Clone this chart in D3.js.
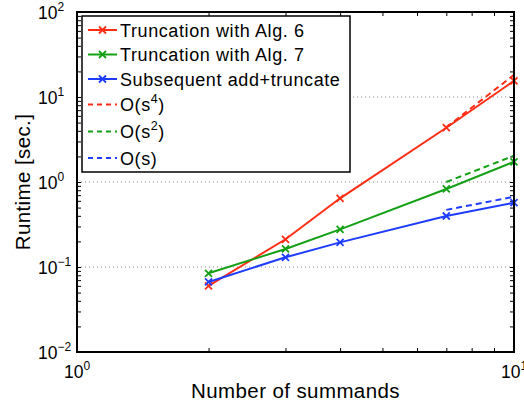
<!DOCTYPE html>
<html>
<head>
<meta charset="utf-8">
<script src="https://cdn.jsdelivr.net/npm/d3@7"></script>
<style>
body{margin:0;background:#fff;}
text{font-family:"Liberation Sans",Arial,sans-serif;fill:#000;}
</style>
</head>
<body>
<svg id="chart" width="524" height="409"></svg>
<script>
// values
var summands = [2, 3, 4, 7, 10];
var alg6 = [0.060, 0.212, 0.643, 4.35, 15.5];
var alg7 = [0.0843, 0.163, 0.277, 0.828, 1.73];
var addTrunc = [0.0667, 0.130, 0.195, 0.398, 0.571];

var refX = [7, 10];
var refS4 = [4.4, 18.2];
var refS2 = [1.0, 2.04];
var refS1 = [0.47, 0.67];

var yTickExp = [-2, -1, 0, 1, 2];
var xTickExp = [0, 1];

var red = "#ff2d14", green = "#14a014", blue = "#1e3cff";

var svg = d3.select("#chart");
var pLeft = 77, pRight = 514, pTop = 12, pBottom = 352;

var x = d3.scaleLog().domain([1, 10]).range([pLeft, pRight]);
var y = d3.scaleLog().domain([0.01, 100]).range([pBottom, pTop]);

// minor + major tick positions
var yTicks = [];
for (var e = -2; e < 2; e++){
  for (var m = 1; m < 10; m++) yTicks.push(m * Math.pow(10, e));
}
yTicks.push(100);
var xTicks = [1,2,3,4,5,6,7,8,9,10];

// dotted grid at the decades
svg.append("g").selectAll("line")
  .data(yTickExp.slice(1, -1))
  .join("line")
  .attr("x1", pLeft).attr("x2", pRight)
  .attr("y1", d => y(Math.pow(10, d))).attr("y2", d => y(Math.pow(10, d)))
  .attr("stroke", "#888").attr("stroke-width", 1)
  .attr("stroke-dasharray", "1,3");

// inward ticks on all four sides
function tickG(axis, tx, ty){
  let g = svg.append("g").attr("transform", "translate(" + tx + "," + ty + ")").call(axis);
  g.select(".domain").remove();
  g.selectAll("line").attr("stroke", "#000").attr("stroke-width", 1);
  g.selectAll("text").remove();
}
tickG(d3.axisLeft(y).tickValues(yTicks).tickSize(-4), pLeft, 0);
tickG(d3.axisRight(y).tickValues(yTicks).tickSize(-4), pRight, 0);
tickG(d3.axisBottom(x).tickValues(xTicks).tickSize(-4), 0, pBottom);
tickG(d3.axisTop(x).tickValues(xTicks).tickSize(-4), 0, pTop);

// series
var series = [
  {name: "Truncation with Alg. 6", xs: summands, ys: alg6, color: red, dash: null, marker: true},
  {name: "Truncation with Alg. 7", xs: summands, ys: alg7, color: green, dash: null, marker: true},
  {name: "Subsequent add+truncate", xs: summands, ys: addTrunc, color: blue, dash: null, marker: true},
  {name: "O(s", sup: "4", xs: refX, ys: refS4, color: red, dash: "6,4", marker: false},
  {name: "O(s", sup: "2", xs: refX, ys: refS2, color: green, dash: "6,4", marker: false},
  {name: "O(s)", xs: refX, ys: refS1, color: blue, dash: "6,4", marker: false}
];

var line = d3.line().x(d => x(d[0])).y(d => y(d[1]));

function cross(g, cx, cy, color){
  let r = 3.5;
  g.append("path")
    .attr("d", "M" + (cx-r) + "," + (cy-r) + "L" + (cx+r) + "," + (cy+r) + "M" + (cx-r) + "," + (cy+r) + "L" + (cx+r) + "," + (cy-r))
    .attr("stroke", color).attr("stroke-width", 1.8).attr("fill", "none");
}

var plotG = svg.append("g");
for (let s of series){
  let pts = s.xs.map((v, i) => [v, s.ys[i]]);
  plotG.append("path").datum(pts)
    .attr("d", line)
    .attr("fill", "none")
    .attr("stroke", s.color)
    .attr("stroke-width", 2)
    .attr("stroke-dasharray", s.dash);
  if (s.marker){
    for (let p of pts) cross(plotG, x(p[0]), y(p[1]), s.color);
  }
}

// axes box
svg.append("rect")
  .attr("x", pLeft).attr("y", pTop)
  .attr("width", pRight-pLeft).attr("height", pBottom-pTop)
  .attr("fill", "none").attr("stroke", "#000").attr("stroke-width", 2);

// tick labels 10^n
for (let e of yTickExp){
  let t = svg.append("text")
    .attr("x", 38).attr("y", y(Math.pow(10, e)) + 6.5)
    .attr("font-size", 17.5);
  t.append("tspan").text("10");
  t.append("tspan").text(e < 0 ? "\u2212" + (-e) : e).attr("font-size", 12).attr("dy", -8);
}
for (let e of xTickExp){
  let t = svg.append("text")
    .attr("x", x(Math.pow(10, e))).attr("y", 378)
    .attr("text-anchor", "middle")
    .attr("font-size", 17.5);
  t.append("tspan").text("10");
  t.append("tspan").text(e).attr("font-size", 12).attr("dy", -8);
}

// axis labels
svg.append("text")
  .attr("x", (pLeft+pRight)/2).attr("y", 398)
  .attr("text-anchor", "middle")
  .attr("font-size", 20.5).attr("letter-spacing", 0.4)
  .text("Number of summands");
svg.append("text")
  .attr("transform", "translate(30," + ((pTop+pBottom)/2) + ") rotate(-90)")
  .attr("text-anchor", "middle")
  .attr("font-size", 20.5).attr("letter-spacing", 0.4)
  .text("Runtime [sec.]");

// legend
var legY = [30, 54.5, 79, 104.5, 131.5, 158];
var legG = svg.append("g");
legG.append("rect")
  .attr("x", 82).attr("y", 16)
  .attr("width", 268).attr("height", 156)
  .attr("fill", "#fff").attr("stroke", "#000").attr("stroke-width", 1.5);
series.forEach(function(s, i){
  let ly = legY[i];
  legG.append("line")
    .attr("x1", 88).attr("x2", 117).attr("y1", ly).attr("y2", ly)
    .attr("stroke", s.color).attr("stroke-width", 2)
    .attr("stroke-dasharray", s.dash ? "5,4" : null);
  if (s.marker) cross(legG, 102.5, ly, s.color);
  let t = legG.append("text")
    .attr("x", 120).attr("y", ly + 6.5)
    .attr("font-size", 18).attr("letter-spacing", 0.6);
  t.append("tspan").text(s.name);
  if (s.sup){
    t.append("tspan").text(s.sup).attr("font-size", 12.5).attr("dy", -8);
    t.append("tspan").text(")").attr("dy", 8);
  }
});
</script>
</body>
</html>
